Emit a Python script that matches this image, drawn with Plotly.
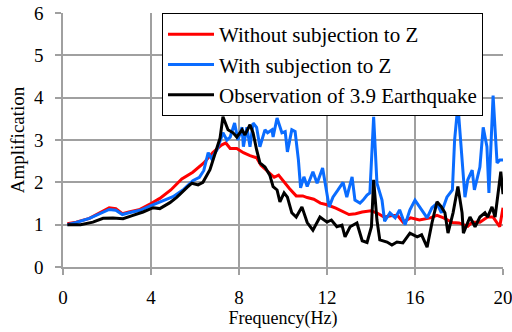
import plotly.graph_objects as go

# Without subjection to Z (red)
red_x = [0.2, 0.6, 1.2, 1.7, 2.1, 2.4, 2.7, 3.0, 3.5, 4.0, 4.4, 4.9, 5.4, 5.9, 6.4, 6.8, 7.2, 7.4, 7.6, 7.9,
         8.2, 8.5, 8.8, 9.0, 9.4, 9.6, 9.8, 10.0, 10.3, 10.6, 10.9, 11.1, 11.4, 11.7, 12.0, 12.4, 12.7, 13.0,
         13.3, 13.6, 14.0, 14.3, 14.6, 14.9, 15.2, 15.45, 15.8, 16.2, 16.7, 17.0, 17.3, 17.7, 18.0, 18.4,
         18.6, 18.95, 19.3, 19.55, 19.85, 20.0]
red_y = [1.02, 1.06, 1.15, 1.28, 1.40, 1.38, 1.26, 1.30, 1.36, 1.50, 1.62, 1.82, 2.08, 2.24, 2.46, 2.70, 2.88, 2.93, 2.80, 2.80,
         2.70, 2.63, 2.58, 2.40, 2.22, 2.12, 2.17, 2.04, 1.85, 1.68, 1.68, 1.64, 1.60, 1.51, 1.47, 1.39, 1.32, 1.24,
         1.26, 1.30, 1.33, 1.27, 1.18, 1.21, 1.22, 1.06, 1.16, 1.11, 1.16, 1.22, 1.16, 1.05, 1.04, 0.96,
         1.06, 1.06, 1.18, 1.18, 0.95, 1.40]

# With subjection to Z (blue)
blue_x = [0.2, 0.6, 1.2, 1.7, 2.1, 2.4, 2.7, 3.0, 3.5, 4.0, 4.5, 5.0, 5.5, 5.9, 6.2, 6.4, 6.6, 6.75, 7.0, 7.27,
          7.45, 7.6, 7.8, 7.95, 8.14, 8.2, 8.36, 8.5, 8.64, 8.8, 8.95, 9.18, 9.3, 9.5, 9.55, 9.73, 9.95, 10.1,
          10.2, 10.4, 10.55, 10.7, 10.8, 10.95, 11.1, 11.36, 11.55, 11.8, 12.1, 12.27, 12.5, 12.73, 12.9, 13.14,
          13.27, 13.5, 13.64, 13.82, 13.95, 14.12, 14.27, 14.5, 14.62, 14.86, 15.1, 15.3, 15.55, 15.77, 16.0,
          16.3, 16.55, 16.77, 17.0, 17.2, 17.45, 17.7, 17.8, 17.95, 18.14, 18.27, 18.4, 18.6, 18.7, 18.95,
          19.1, 19.27, 19.36, 19.55, 19.73, 19.86, 20.0]
blue_y = [1.0, 1.05, 1.15, 1.26, 1.36, 1.34, 1.24, 1.28, 1.34, 1.45, 1.55, 1.66, 1.84, 2.04, 2.12, 2.28, 2.70, 2.56, 2.77, 3.17,
          3.00, 3.07, 3.40, 3.00, 3.30, 2.84, 3.30, 2.84, 3.40, 3.30, 2.84, 3.24, 3.17, 3.24, 3.07, 3.52, 3.17, 3.20,
          2.72, 3.24, 3.20, 2.53, 1.87, 2.13, 1.90, 2.25, 1.98, 2.34, 1.42, 1.65, 1.82, 2.00, 1.65, 2.13,
          1.58, 1.51, 1.58, 1.70, 1.75, 3.55, 1.98, 1.58, 1.08, 1.28, 1.16, 1.35, 1.00, 1.35, 1.58,
          1.35, 1.16, 1.40, 1.50, 1.28, 1.65, 1.82, 3.00, 3.83, 2.46, 1.65, 2.06, 2.29, 1.82, 2.36,
          3.30, 2.84, 1.75, 4.05, 2.46, 2.53, 2.53]

# Observation of 3.9 Earthquake (black)
black_x = [0.2, 0.8, 1.36, 1.82, 2.27, 2.73, 3.18, 3.64, 4.1, 4.4, 4.86, 5.18, 5.64, 5.86, 6.14, 6.36, 6.68, 7.0, 7.14, 7.27,
           7.5, 7.73, 7.9, 8.14, 8.27, 8.5, 8.64, 8.8, 8.95, 9.18, 9.4, 9.55, 9.73, 9.86, 10.05, 10.2, 10.4,
           10.6, 10.86, 11.1, 11.36, 11.68, 12.0, 12.2, 12.45, 12.68, 12.82, 13.05, 13.36, 13.6, 13.82, 14.02,
           14.12, 14.27, 14.4, 14.73, 14.95, 15.18, 15.45, 15.77, 16.1, 16.3, 16.55, 16.77, 17.0, 17.2, 17.36,
           17.5, 17.73, 17.95, 18.14, 18.2, 18.5, 18.73, 18.95, 19.18, 19.3, 19.5, 19.64, 19.9, 20.0]
black_y = [1.0, 1.0, 1.06, 1.15, 1.16, 1.14, 1.22, 1.30, 1.40, 1.38, 1.52, 1.65, 1.88, 1.98, 1.94, 2.00, 2.30, 2.84, 3.05, 3.55,
           3.24, 3.17, 3.07, 3.24, 3.12, 3.36, 3.17, 2.77, 2.46, 2.36, 2.17, 1.90, 1.82, 1.54, 1.75, 1.65, 1.28,
           1.18, 1.42, 1.05, 0.87, 1.18, 1.06, 1.11, 0.95, 0.99, 0.71, 0.95, 1.04, 0.62, 0.58, 0.95,
           2.06, 1.11, 0.64, 0.59, 0.52, 0.59, 0.57, 0.80, 0.71, 0.76, 0.47, 1.04, 1.54, 1.42, 1.28,
           0.80, 1.28, 1.90, 1.28, 0.80, 1.18, 0.95, 1.18, 1.28, 1.18, 1.42, 1.18, 2.25, 1.72]

series_names = ["Without subjection to Z", "With subjection to Z", "Observation of 3.9 Earthquake"]
x_ticks = [0, 4, 8, 12, 16, 20]
y_ticks = [0, 1, 2, 3, 4, 5, 6]

FONT = "Liberation Serif"
GRID = "#a0a0a0"

fig = go.Figure()
for xs, ys, name, col in [(red_x, red_y, series_names[0], "#ff0000"),
                          (blue_x, blue_y, series_names[1], "#0a6cff"),
                          (black_x, black_y, series_names[2], "#000000")]:
    fig.add_trace(go.Scatter(x=xs, y=ys, mode="lines", name=name,
                             line=dict(color=col, width=3, shape="linear")))

fig.update_layout(
    template="none",
    width=512, height=332,
    margin=dict(l=63, r=9, t=13, b=65),
    paper_bgcolor="white", plot_bgcolor="white",
    font=dict(family=FONT, size=19, color="black"),
    showlegend=True,
    legend=dict(x=(162 - 63) / 440, y=1.0, xanchor="left", yanchor="top",
                bgcolor="white", bordercolor="black", borderwidth=1,
                font=dict(family=FONT, size=21, color="black"), tracegroupgap=0,
                itemwidth=46),
    xaxis=dict(range=[0, 20], tickmode="array", tickvals=x_ticks,
               automargin=False, ticklabeloverflow="allow",
               showgrid=True, gridcolor=GRID, gridwidth=1.5,
               showline=True, linecolor=GRID, linewidth=1.5, mirror=False,
               ticks="outside", ticklen=6, tickcolor=GRID, tickwidth=1.5,
               ticklabelstandoff=6,
               zeroline=False, tickfont=dict(family=FONT, size=19, color="black"),
               title=dict(text="Frequency(Hz)", font=dict(family=FONT, size=18, color="black"), standoff=4)),
    yaxis=dict(range=[0, 6], tickmode="array", tickvals=y_ticks,
               automargin=False, ticklabeloverflow="allow",
               showgrid=True, gridcolor=GRID, gridwidth=1.5,
               showline=True, linecolor=GRID, linewidth=1.5,
               ticks="outside", ticklen=6, tickcolor=GRID, tickwidth=1.5,
               ticklabelstandoff=8,
               zeroline=False, tickfont=dict(family=FONT, size=19, color="black"),
               title=dict(text="Amplification", font=dict(family=FONT, size=19, color="black"), standoff=4)),
)

fig.write_html("out.html")
